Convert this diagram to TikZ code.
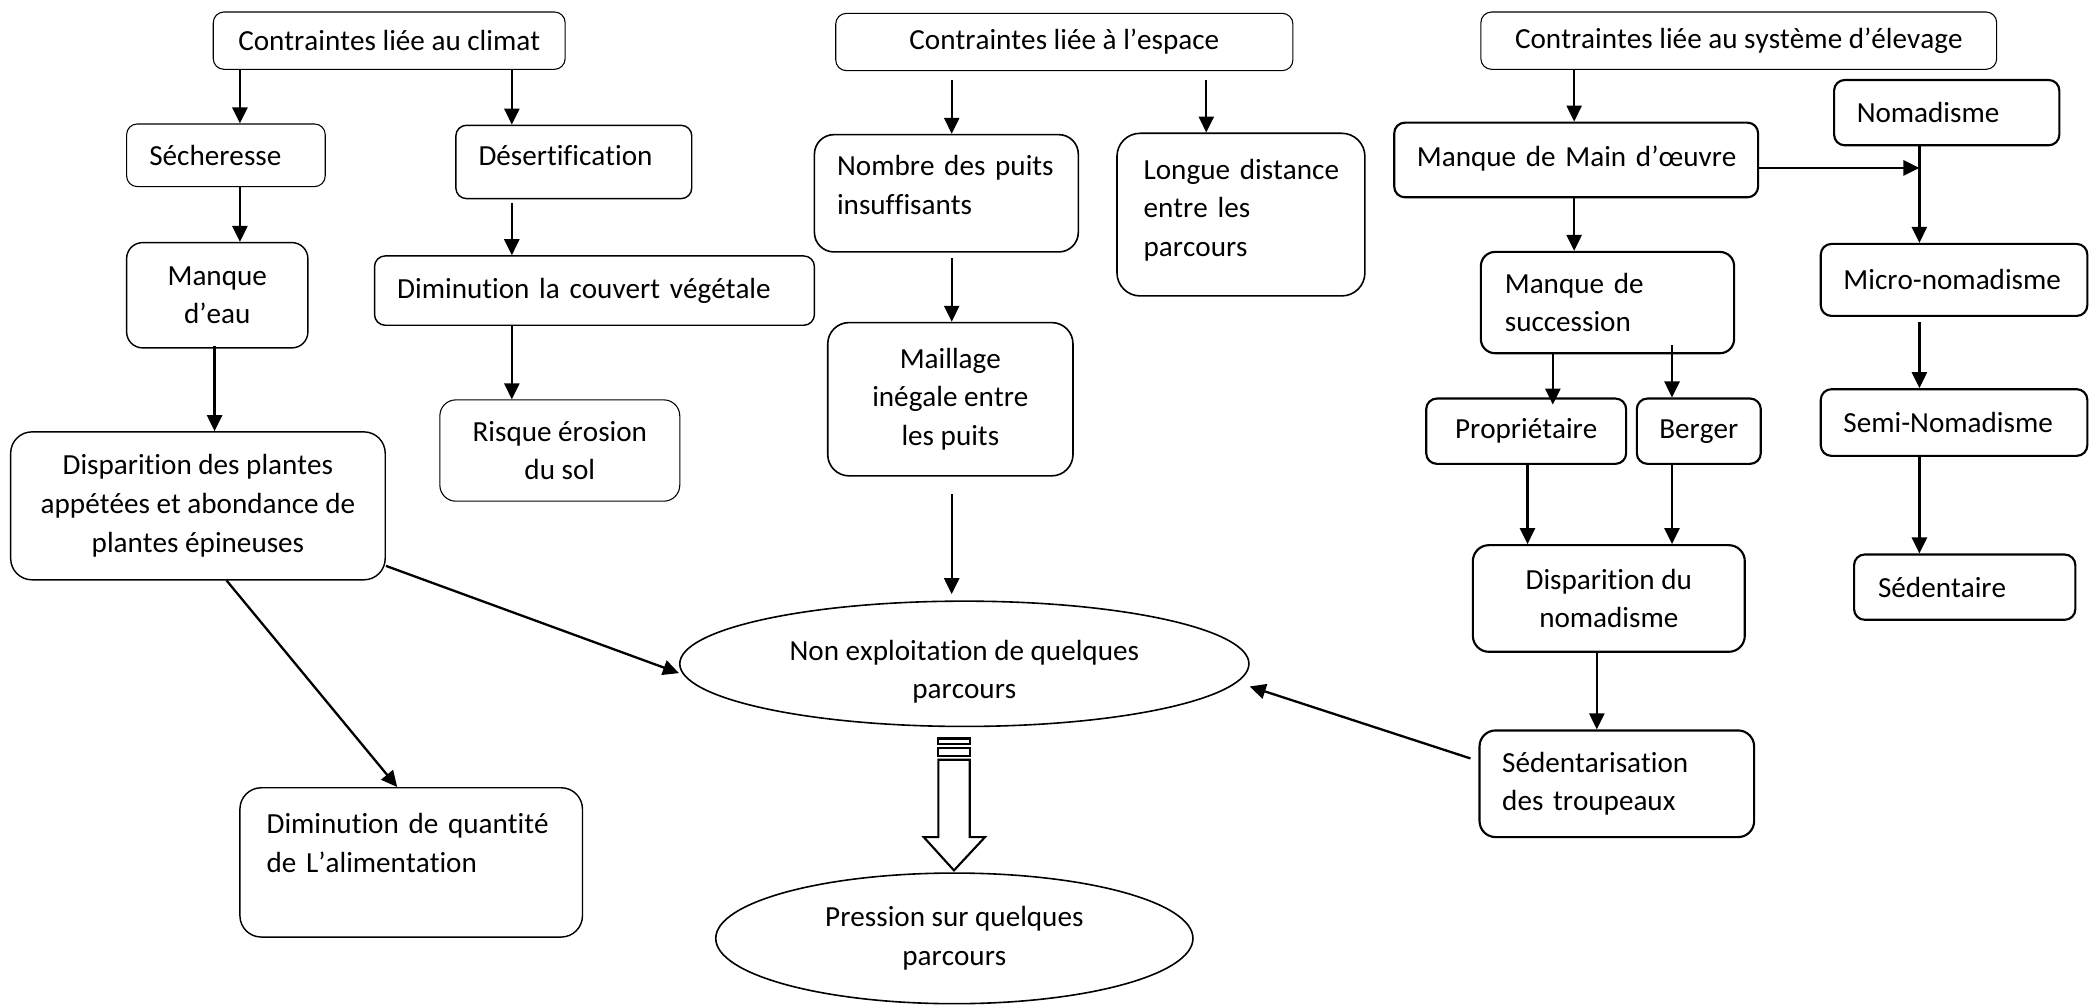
\documentclass[tikz,border=0pt]{standalone}
\usepackage{fontspec}
\setmainfont{Carlito}[Kerning=Off,Ligatures={NoCommon}]
\usetikzlibrary{arrows.meta,shapes.geometric}

\tikzset{every picture/.style={line width=0.75pt}}
\tikzset{
  box/.style={draw, rounded corners=#1, line width=0.6pt, align=center, inner sep=3pt},
  box/.default=6pt,
  lbox/.style={box=#1, align=left, inner xsep=12.75pt},
  lbox/.default=6pt,
  thk/.style={line width=1.2pt},
  oval/.style={draw, ellipse, line width=0.9pt, align=center, inner sep=0pt},
  arr/.style={line width=1.3pt, -{Triangle[length=9pt,width=8.5pt]}}
}

\begin{document}
\begin{tikzpicture}[x=0.75pt,y=0.75pt,yscale=-1,xscale=1,font=\fontsize{16.4}{21.75}\selectfont]
\useasboundingbox (0,0) rectangle (1568,754);

%Shape: climat
\node[box] (clim) at (292,30.5) [minimum width=198pt,minimum height=32.25pt] {Contraintes liée au climat};
\node[lbox] (sech) at (169.5,116.5) [text width=86.25pt,minimum height=35.25pt] {Sécheresse};
\node[lbox,line width=0.8pt] (deser) at (430.5,121.5) [text width=107.25pt,minimum height=41.25pt] {Désertification\\[-15pt]\mbox{}};
\node[box=9pt,line width=0.8pt] (eau) at (163,221.5) [minimum width=102pt,minimum height=59.25pt] {Manque\\d’eau};
\node[lbox,line width=0.8pt] (couv) at (446,218) [text width=222pt,minimum height=39pt] {\mbox{Diminution la couvert végétale}};
\node[box=9pt] (eros) at (420,338) [minimum width=135pt,minimum height=57pt] {Risque érosion\\du sol};
\node[box=12pt,line width=0.8pt] (plant) at (148.5,379.5) [minimum width=210.75pt,minimum height=83.25pt] {Disparition des plantes\\appétées et abondance de\\plantes épineuses};
\node[lbox=12pt,inner xsep=15pt,line width=0.8pt] (dimq) at (308.5,647) [text width=162.75pt,minimum height=84pt] {\mbox{Diminution de quantité}\\\mbox{de L’alimentation}\\\mbox{}};

%Shape: espace
\node[box] (esp) at (798.5,31.5) [minimum width=257.25pt,minimum height=32.25pt] {Contraintes liée à l’espace};
\node[lbox=11pt,line width=0.9pt] (puits) at (710,145) [text width=123pt,minimum height=66pt] {\mbox{Nombre des puits}\\insuffisants\\[-12pt]\mbox{}};
\node[lbox=13pt,line width=0.9pt,inner xsep=15pt] (dist) at (931,161) [text width=109.5pt,minimum height=91.5pt] {\mbox{Longue distance}\\entre les\\parcours\\[-14pt]\mbox{}};
\node[box=12pt,line width=0.9pt] (mail) at (713,299.5) [minimum width=138pt,minimum height=86.25pt] {Maillage\\inégale entre\\les puits};

%Shape: ellipses
\node[oval,label={[align=center,yshift=-4.5pt]center:Non exploitation de quelques\\parcours}] (nonex) at (723.5,498) [minimum width=320.25pt,minimum height=70.5pt] {};
\node[oval] (press) at (716,704) [minimum width=268.5pt,minimum height=73.5pt] {Pression sur quelques\\parcours};

%Shape: systeme d'elevage
\node[box] (elev) at (1304.5,30.5) [minimum width=290.25pt,minimum height=32.25pt] {Contraintes liée au système d’élevage};
\node[lbox,thk] (mmo) at (1182.5,120) [text width=179.25pt,minimum height=42pt] {\mbox{Manque de Main d’œuvre}\\[-17pt]\mbox{}};
\node[lbox,thk] (nomad) at (1460.5,84.5) [text width=101.25pt,minimum height=36.75pt] {Nomadisme};
\node[lbox=8pt,thk,inner xsep=13.5pt] (succ) at (1206,227) [text width=115.5pt,minimum height=57pt] {Manque de\\succession};
\node[lbox,thk] (micro) at (1466,210) [text width=124.5pt,minimum height=40.5pt] {Micro-nomadisme};
\node[lbox,thk] (semi) at (1466,317) [text width=124.5pt,minimum height=37.5pt] {Semi-Nomadisme};
\node[lbox,thk,inner xsep=13.5pt] (sedt) at (1474,440.5) [text width=97.5pt,minimum height=36.75pt] {Sédentaire};
\node[box,thk] (prop) at (1145,323.5) [minimum width=112.5pt,minimum height=36.75pt] {Propriétaire};
\node[box,thk] (berg) at (1274.5,323.5) [minimum width=69.75pt,minimum height=36.75pt] {Berger};
\node[box=9pt,thk] (disn) at (1207,449) [minimum width=153pt,minimum height=60pt] {Disparition du\\nomadisme};
\node[lbox=9pt,thk] (sedz) at (1213,588) [text width=129pt,minimum height=60pt] {Sédentarisation\\des troupeaux};

\coordinate (mj) at (1440,126);

% Arrows
\draw[arr] (180,0 |- clim.south) -- (180,0 |- sech.north);
\draw[arr] (384,0 |- clim.south) -- (384,0 |- deser.north);
\draw[arr] (180,0 |- sech.south) -- (180,0 |- eau.north);
\draw[arr,shorten <=2pt] (384,0 |- deser.south) -- (384,0 |- couv.north);
\draw[arr] (384,0 |- couv.south) -- (384,0 |- eros.north);
\draw[arr,shorten <=-1.5pt] (161,0 |- eau.south) -- (161,0 |- plant.north);
\draw[arr] ([yshift=-8.25pt]plant.south east) -- ([yshift=5.25pt]nonex.west);
\draw[arr] (170,0 |- plant.south) -- (298,0 |- dimq.north);

\draw[arr,shorten <=5pt] (714,0 |- esp.south) -- (714,0 |- puits.north);
\draw[arr,shorten <=5pt] (905,0 |- esp.south) -- (905,0 |- dist.north);
\draw[arr,shorten <=3pt] (714,0 |- puits.south) -- (714,0 |- mail.north);
\draw[arr,shorten <=10pt,shorten >=3.5pt] (714,0 |- mail.south) -- (714,0 |- nonex.north);

\draw[arr] (1181,0 |- elev.south) -- (1181,0 |- mmo.north);
\draw[arr] ([yshift=4.5pt]mmo.east) -- (mj);
\draw[arr] (1440,0 |- nomad.south) -- (1440,0 |- micro.north);
\draw[arr] (1181,0 |- mmo.south) -- (1181,0 |- succ.north);
\draw[arr,shorten >=-4pt] (1165,0 |- succ.south) -- (1165,0 |- prop.north);
\draw[arr,shorten <=-5pt] (1254.4,0 |- succ.south) -- (1254.4,0 |- berg.north);
\draw[arr] (1146,0 |- prop.south) -- (1146,0 |- disn.north);
\draw[arr] (1254.4,0 |- berg.south) -- (1254.4,0 |- disn.north);
\draw[arr] (1198,0 |- disn.south) -- (1198,0 |- sedz.north);
\draw[arr] ([xshift=-4.5pt,yshift=-14.25pt]sedz.west) -- ([yshift=12.75pt]nonex.east);
\draw[arr,shorten <=3pt] (1440,0 |- micro.south) -- (1440,0 |- semi.north);
\draw[arr] (1440,0 |- semi.south) -- (1440,0 |- sedt.north);

%Shape: striped block arrow
\draw[line width=1.2pt] (704,554) rectangle (727.5,558);
\draw[line width=1.2pt] (704,561) rectangle (727.5,567);
\draw[line width=1.2pt,line join=miter] (704,570) -- (727.5,570) -- (727.5,628) -- (739,628) -- (715.7,653) -- (693,628) -- (704,628) -- cycle;

\end{tikzpicture}
\end{document}
